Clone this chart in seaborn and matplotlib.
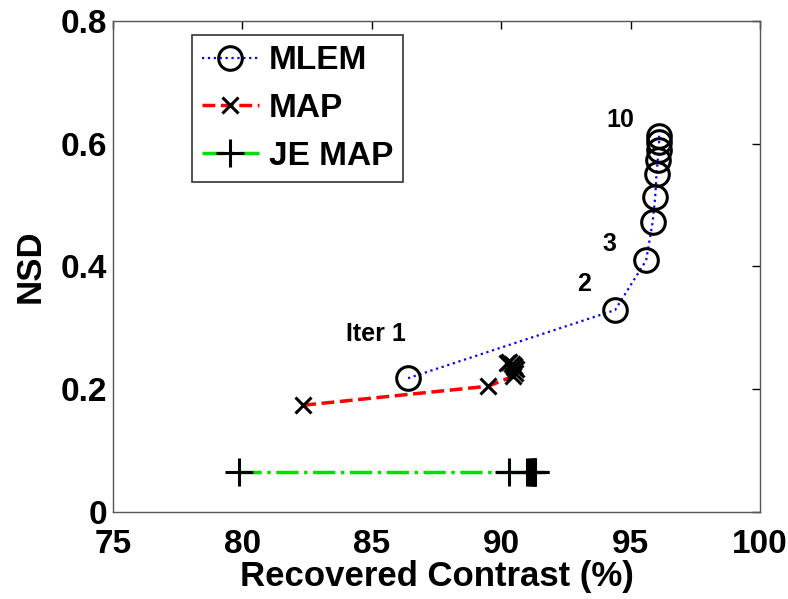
import numpy as np
import pandas as pd
import matplotlib
matplotlib.use("Agg")
import matplotlib.pyplot as plt
import seaborn as sns

# MLEM iterations 1..10
mlem_rc = [86.4, 94.4, 95.6, 95.85, 95.95, 96.0, 96.05, 96.1, 96.1, 96.1]
mlem_nsd = [0.218, 0.329, 0.410, 0.472, 0.513, 0.551, 0.574, 0.590, 0.603, 0.613]

# MAP
map_rc = [82.35, 89.5, 90.45, 90.52, 90.56, 90.5, 90.4, 90.3, 90.22, 90.48]
map_nsd = [0.174, 0.205, 0.221, 0.226, 0.233, 0.238, 0.241, 0.244, 0.242, 0.236]

# JE MAP
je_rc = [79.85, 90.3, 91.0, 91.08, 91.14, 91.2, 91.25, 91.28, 91.3, 91.3]
je_nsd = [0.065] * 10

iter_labels = ["Iter 1", "2", "3", "10"]
iter_label_x = [84.0, 92.95, 93.9, 94.07]
iter_label_y = [0.29, 0.372, 0.437, 0.638]

sns.set_style("white")
plt.rcParams['font.family'] = ['Liberation Sans', 'DejaVu Sans']
plt.rcParams['font.weight'] = 'bold'
for key in ['text.color', 'axes.labelcolor', 'xtick.color', 'ytick.color']:
    plt.rcParams[key] = 'black'

fig = plt.figure(figsize=(7.88, 5.99), dpi=100)
ax = fig.add_axes([0.1434, 0.1452, 0.8211, 0.8198])

marker_kw = dict(markerfacecolor='none', markeredgecolor='k', markeredgewidth=2.2)

sns.lineplot(x=mlem_rc, y=mlem_nsd, sort=False, estimator=None, ax=ax,
             color='blue', linestyle=':', linewidth=1.6, marker='o',
             markersize=17, label='MLEM', **marker_kw)
sns.lineplot(x=map_rc, y=map_nsd, sort=False, estimator=None, ax=ax,
             color='red', linestyle='--', linewidth=2.5, marker='x',
             markersize=12, label='MAP', dashes=(4, 2.5), **marker_kw)
sns.lineplot(x=je_rc, y=je_nsd, sort=False, estimator=None, ax=ax,
             color='#00e000', linestyle='-.', linewidth=2.5, marker='+',
             markersize=20, label='JE MAP', **marker_kw)

for t, x, y in zip(iter_labels, iter_label_x, iter_label_y):
    ax.text(x, y, t, fontsize=18, fontweight='bold', ha='left', va='center')

ax.set_xlim(75, 100)
ax.set_ylim(0, 0.8)
ax.set_xticks([75, 80, 85, 90, 95, 100])
ax.set_yticks([0, 0.2, 0.4, 0.6, 0.8])
ax.set_yticklabels(['0', '0.2', '0.4', '0.6', '0.8'])
ax.tick_params(direction='in', length=6, width=1, top=True, right=True,
               labelsize=24, colors='k')
ax.tick_params(axis='x', pad=12)
ax.tick_params(axis='y', pad=4)
for s in ax.spines.values():
    s.set_color('#555555')
    s.set_linewidth(1)
ax.set_xlabel('Recovered Contrast (%)', fontsize=25, fontweight='bold', labelpad=0)
ax.set_ylabel('NSD', fontsize=25, fontweight='bold', labelpad=10)

leg = ax.legend(loc='upper left', bbox_to_anchor=(0.122, 0.971), fontsize=24,
                frameon=True, fancybox=False, edgecolor='k', handlelength=1.7,
                borderpad=0.3, labelspacing=0.5, handletextpad=0.3,
                borderaxespad=0)
leg.get_frame().set_linewidth(1.2)
for txt in leg.get_texts():
    txt.set_fontweight('bold')

fig.savefig('out.png', dpi=100)
